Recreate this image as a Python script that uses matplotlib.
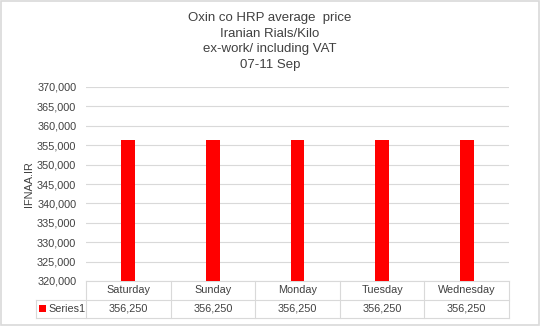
import matplotlib.pyplot as plt
from matplotlib.patches import Rectangle

days = ["Saturday", "Sunday", "Monday", "Tuesday", "Wednesday"]
prices = [356250, 356250, 356250, 356250, 356250]
series_name = "Series1"
title = "Oxin co HRP average  price\nIranian Rials/Kilo\nex-work/ including VAT\n07-11 Sep"

plt.rcParams["font.family"] = ["Liberation Sans", "DejaVu Sans"]

fig = plt.figure(figsize=(5.4, 3.26), dpi=100)
ax = fig.add_axes([86 / 540, 1 - 281 / 326, 423 / 540, 194 / 326])

x = list(range(len(days)))
ax.bar(x, prices, width=0.165, color="#ff0000", zorder=3)
ax.set_xlim(-0.5, len(days) - 0.5)
ax.set_ylim(320000, 370000)
ax.set_yticks(range(320000, 370001, 5000))
ax.yaxis.set_major_formatter(plt.FuncFormatter(lambda v, p: f"{int(v):,}"))
ax.tick_params(axis="y", length=0, labelsize=7.8, colors="#404040", pad=7)
ax.set_xticks([])
ax.grid(axis="y", color="#d9d9d9", linewidth=0.8, zorder=0)
for s in ax.spines.values():
    s.set_visible(False)
ax.set_ylabel("IFNAA.IR", fontsize=7.8, color="#404040", labelpad=2)

fig.text(0.5, 0.873, title, ha="center", va="center", fontsize=9.5,
         color="#404040", linespacing=1.38)

# data table under the plot
tr = ax.transAxes
row_h = 18.5 / 194
lab_left = (36 - 86) / 423
line_kw = dict(color="#d9d9d9", linewidth=0.8, transform=tr, clip_on=False)
ax.plot([0, 1], [0, 0], **line_kw)
ax.plot([lab_left, 1], [-row_h, -row_h], **line_kw)
ax.plot([lab_left, 1], [-2 * row_h, -2 * row_h], **line_kw)
ax.plot([lab_left, lab_left], [-row_h, -2 * row_h], **line_kw)
for i in range(len(days) + 1):
    ax.plot([i / len(days), i / len(days)], [0, -2 * row_h], **line_kw)
for i, (d, v) in enumerate(zip(days, prices)):
    cx = (i + 0.5) / len(days)
    ax.text(cx, -0.5 * row_h, d, ha="center", va="center", fontsize=7.8,
            color="#404040", transform=tr)
    ax.text(cx, -1.5 * row_h, f"{v:,}", ha="center", va="center", fontsize=7.8,
            color="#404040", transform=tr)
ax.add_patch(Rectangle((lab_left + 3 / 423, -1.5 * row_h - 3.5 / 194), 7 / 423, 7 / 194,
                       facecolor="#ff0000", transform=tr, clip_on=False))
ax.text(lab_left + 12 / 423, -1.5 * row_h, series_name, ha="left", va="center",
        fontsize=7.8, color="#404040", transform=tr)

fig.patches.append(Rectangle((0.002, 0.003), 0.996, 0.994, fill=False,
                             edgecolor="#d9d9d9", linewidth=1.2,
                             transform=fig.transFigure))

plt.savefig("out.png", dpi=100)
